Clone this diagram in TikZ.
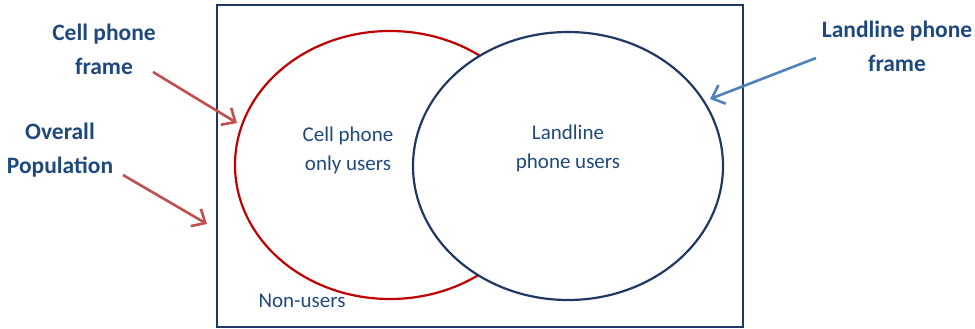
\documentclass[tikz,border=0pt]{standalone}
\usepackage{fontspec}
\setmainfont{Carlito}
\usetikzlibrary{shapes.geometric, arrows.meta, positioning}
\definecolor{navy}{HTML}{1F3864}
\definecolor{textblue}{HTML}{1F497D}
\definecolor{cellred}{HTML}{C00000}
\definecolor{arrowred}{HTML}{C0504D}
\definecolor{arrowblue}{HTML}{4F81BD}
\tikzstyle{frame} = [ellipse, minimum width=310pt, minimum height=268pt, line width=2.2pt]
\tikzstyle{inner} = [align=center, text=textblue, font=\fontsize{21}{29}\selectfont]
\tikzstyle{outer} = [align=center, text=textblue, font=\fontsize{23.5}{34}\selectfont\bfseries]
\tikzstyle{arrow} = [line width=2.6pt, -{Straight Barb[length=11pt, width=20pt, line width=2.6pt]}]

\begin{document}
\begin{tikzpicture}[x=1pt, y=-1pt]
        \useasboundingbox (0,0) rectangle (975,329);
        \node (population) [draw=navy, line width=2.2pt, minimum width=526pt, minimum height=322pt] at (480,166) {};
        \node (cellframe) [frame, draw=cellred] at (390,165) {};
        \node (landframe) [frame, draw=navy, fill=white] at (568,166) {};

        \node (cellonly) [inner] at (348,150) {Cell phone\\only users};
        \node (landusers) [inner] at (568,148) {Landline\\phone users};
        \node (nonusers) [inner] at (302,301) {Non-users};

        \node (celllabel) [outer] at (104,49) {Cell phone\\frame};
        \node (poplabel) [outer] at (60,150) {Overall\\Population};
        \node (landlabel) [outer] at (897,46) {Landline phone\\frame};

        \coordinate (cellfrom) at (153,72);
        \coordinate (cellto) at (237,123);
        \coordinate (popfrom) at (123,175);
        \coordinate (popto) at (207,224);
        \coordinate (landfrom) at (816,58);
        \coordinate (landto) at (710,99);

        \draw [arrow, arrowred] (cellfrom) -- (cellto);
        \draw [arrow, arrowred] (popfrom) -- (popto);
        \draw [arrow, arrowblue] (landfrom) -- (landto);
\end{tikzpicture}
\end{document}
